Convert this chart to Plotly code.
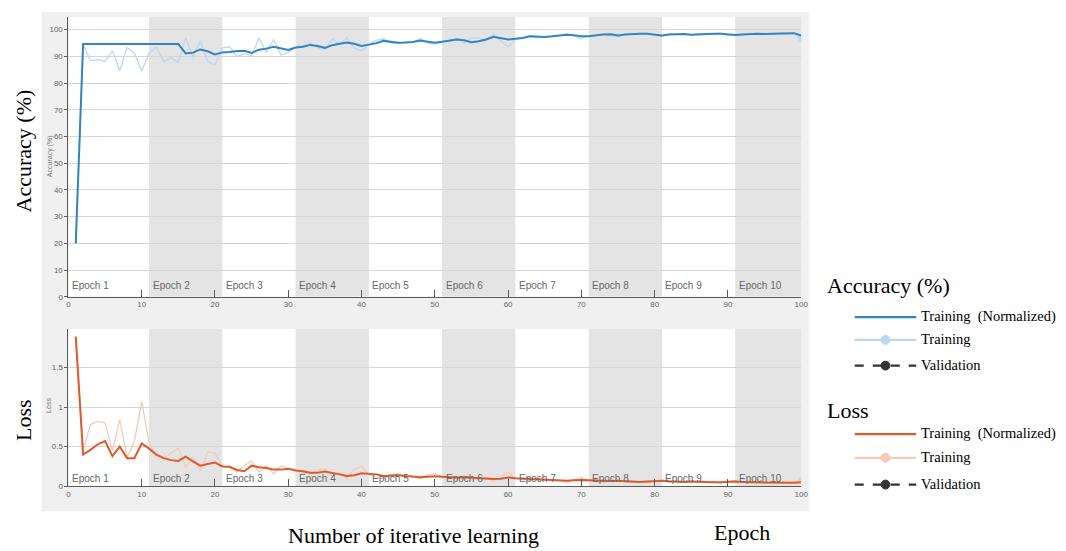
import plotly.graph_objects as go

W, H = 1066, 551

# ---------------- data ----------------
iterations = list(range(1, 101))

acc_smooth = [
    20.0, 94.6, 94.6, 94.6, 94.6, 94.6, 94.6, 94.6, 94.6, 94.6,
    94.6, 94.6, 94.6, 94.6, 94.6, 91.1, 91.4, 92.6, 91.9, 90.7,
    91.5, 91.6, 92.0, 92.1, 91.3, 92.5, 92.9, 93.6, 93.1, 92.4,
    93.3, 93.6, 94.3, 93.9, 93.2, 94.2, 94.7, 95.2, 94.7, 93.9,
    94.4, 94.9, 95.8, 95.4, 95.1, 95.2, 95.4, 95.9, 95.5, 95.1,
    95.5, 95.8, 96.3, 96.0, 95.3, 95.7, 96.3, 97.3, 96.9, 96.3,
    96.6, 96.9, 97.5, 97.3, 97.3, 97.5, 97.8, 98.1, 97.9, 97.5,
    97.5, 97.9, 98.2, 98.3, 97.8, 98.2, 98.4, 98.5, 98.5, 98.2,
    97.8, 98.2, 98.3, 98.4, 98.1, 98.3, 98.5, 98.5, 98.5, 98.3,
    98.0, 98.2, 98.4, 98.5, 98.4, 98.5, 98.7, 98.8, 98.7, 97.8,
]

acc_raw = [
    20.0, 94.5, 88.4, 88.8, 88.1, 92.1, 84.6, 93.3, 91.2, 84.4,
    91.3, 93.4, 88.1, 89.4, 87.8, 97.0, 89.7, 95.9, 88.0, 86.8,
    93.1, 93.6, 90.0, 90.9, 90.3, 96.9, 91.5, 96.3, 90.5, 91.5,
    93.4, 93.9, 95.0, 93.3, 92.5, 96.6, 94.5, 97.0, 93.1, 92.1,
    94.5, 96.0, 96.6, 95.1, 94.8, 95.4, 95.2, 96.7, 95.0, 94.6,
    95.4, 96.1, 96.6, 94.9, 97.0, 96.8, 96.3, 98.2, 96.0, 93.6,
    96.5, 96.9, 97.8, 96.9, 97.5, 97.3, 97.8, 98.4, 97.8, 96.6,
    97.8, 98.2, 98.4, 98.0, 97.5, 98.4, 98.6, 98.3, 98.7, 97.9,
    97.6, 98.4, 98.2, 98.6, 97.9, 98.5, 98.6, 98.3, 98.7, 98.0,
    98.0, 98.4, 98.6, 98.4, 98.6, 98.3, 98.9, 98.7, 98.5, 96.7,
]

loss_smooth = [
    1.89, 0.40, 0.46, 0.53, 0.57, 0.38, 0.50, 0.355, 0.355, 0.54,
    0.475, 0.40, 0.355, 0.33, 0.32, 0.375, 0.315, 0.26, 0.28, 0.30,
    0.25, 0.245, 0.205, 0.19, 0.26, 0.24, 0.23, 0.21, 0.21, 0.22,
    0.20, 0.19, 0.17, 0.17, 0.185, 0.17, 0.15, 0.13, 0.14, 0.165,
    0.16, 0.15, 0.13, 0.135, 0.14, 0.13, 0.125, 0.115, 0.12, 0.125,
    0.12, 0.115, 0.11, 0.115, 0.11, 0.105, 0.10, 0.09, 0.095, 0.11,
    0.10, 0.095, 0.09, 0.09, 0.085, 0.08, 0.075, 0.07, 0.075, 0.08,
    0.075, 0.07, 0.065, 0.065, 0.07, 0.065, 0.06, 0.055, 0.06, 0.065,
    0.07, 0.062, 0.058, 0.055, 0.06, 0.055, 0.052, 0.05, 0.05, 0.055,
    0.06, 0.055, 0.05, 0.05, 0.048, 0.048, 0.045, 0.043, 0.045, 0.05,
]

loss_raw = [
    1.89, 0.45, 0.78, 0.82, 0.80, 0.45, 0.84, 0.36, 0.57, 1.07,
    0.55, 0.38, 0.36, 0.42, 0.48, 0.24, 0.36, 0.20, 0.43, 0.42,
    0.26, 0.24, 0.18, 0.26, 0.32, 0.18, 0.26, 0.155, 0.26, 0.22,
    0.21, 0.17, 0.15, 0.20, 0.22, 0.13, 0.18, 0.10, 0.21, 0.25,
    0.15, 0.11, 0.10, 0.15, 0.16, 0.12, 0.13, 0.09, 0.14, 0.16,
    0.12, 0.10, 0.09, 0.14, 0.08, 0.09, 0.11, 0.06, 0.12, 0.18,
    0.10, 0.09, 0.07, 0.10, 0.08, 0.08, 0.07, 0.05, 0.08, 0.11,
    0.07, 0.06, 0.05, 0.07, 0.08, 0.05, 0.05, 0.06, 0.04, 0.07,
    0.08, 0.05, 0.06, 0.045, 0.07, 0.05, 0.045, 0.06, 0.04, 0.065,
    0.07, 0.05, 0.045, 0.055, 0.04, 0.05, 0.035, 0.04, 0.045, 0.08,
]

epoch_labels = ["Epoch 1", "Epoch 2", "Epoch 3", "Epoch 4", "Epoch 5",
                "Epoch 6", "Epoch 7", "Epoch 8", "Epoch 9", "Epoch 10"]
epoch_starts = [0, 11, 21, 31, 41, 51, 61, 71, 81, 91]
epoch_ends = [11, 21, 31, 41, 51, 61, 71, 81, 91, 100]

x_ticks = [0, 10, 20, 30, 40, 50, 60, 70, 80, 90, 100]
acc_ticks = [0, 10, 20, 30, 40, 50, 60, 70, 80, 90, 100]
loss_ticks = [0, 0.5, 1, 1.5]
loss_tick_text = ["0", "0.5", "1", "1.5"]

ACC_MAX = 104.8
LOSS_MAX = 1.99

# ---------------- styling ----------------
BLUE = "#3384c5"
BLUE_LIGHT = "#bcd8ef"
ORANGE = "#e0592b"
ORANGE_LIGHT = "#f5cbb6"
SHADE = "#e4e4e4"
PANEL = "#f0f0f0"
GRID = "#d6d6d6"
AXIS = "#5a5a5a"
SERIF = "Liberation Serif, Times New Roman, serif"
SANS = "Liberation Sans, Arial, sans-serif"


def px_x(v):
    return v / W


def px_y(v):
    return 1 - v / H


def text_at(x, y, text, size, family=SERIF, color="black", xanchor="center",
            angle=0):
    annotations.append(dict(xref="paper", yref="paper", x=px_x(x), y=px_y(y),
                            text=text, showarrow=False, textangle=angle,
                            xanchor=xanchor, yanchor="middle",
                            font=dict(family=family, size=size, color=color)))


fig = go.Figure()

# accuracy panel
fig.add_trace(go.Scatter(x=iterations, y=acc_raw, mode="lines",
                         line=dict(color=BLUE_LIGHT, width=1.3),
                         xaxis="x", yaxis="y", hoverinfo="skip"))
fig.add_trace(go.Scatter(x=iterations[-1:], y=acc_raw[-1:], mode="markers",
                         marker=dict(color=BLUE_LIGHT, size=6),
                         xaxis="x", yaxis="y", hoverinfo="skip"))
fig.add_trace(go.Scatter(x=iterations, y=acc_smooth, mode="lines",
                         line=dict(color=BLUE, width=2),
                         xaxis="x", yaxis="y"))

# loss panel
fig.add_trace(go.Scatter(x=iterations, y=loss_raw, mode="lines",
                         line=dict(color=ORANGE_LIGHT, width=1.3),
                         xaxis="x2", yaxis="y2", hoverinfo="skip"))
fig.add_trace(go.Scatter(x=iterations[-1:], y=loss_raw[-1:], mode="markers",
                         marker=dict(color=ORANGE_LIGHT, size=6),
                         xaxis="x2", yaxis="y2", hoverinfo="skip"))
fig.add_trace(go.Scatter(x=iterations, y=loss_smooth, mode="lines",
                         line=dict(color=ORANGE, width=2),
                         xaxis="x2", yaxis="y2"))

shapes = []
annotations = []

# grey frame behind both panels
shapes.append(dict(type="rect", xref="paper", yref="paper",
                   x0=px_x(40), x1=px_x(814), y0=px_y(516), y1=px_y(12),
                   fillcolor=PANEL, line=dict(width=0), layer="below"))

for xa, ya, ymax, label_y in (("x", "y", ACC_MAX, 4.4), ("x2", "y2", LOSS_MAX, 0.1)):
    shapes.append(dict(type="rect", xref=xa, yref=ya, x0=0, x1=100, y0=0, y1=ymax,
                       fillcolor="white", line=dict(width=0), layer="below"))
    for i, (s, e) in enumerate(zip(epoch_starts, epoch_ends)):
        if i % 2 == 1:
            shapes.append(dict(type="rect", xref=xa, yref=ya, x0=s, x1=e, y0=0, y1=ymax,
                               fillcolor=SHADE, line=dict(width=0), layer="below"))
        annotations.append(dict(xref=xa, yref=ya, x=s + 0.2, y=label_y, text=epoch_labels[i],
                                showarrow=False, xanchor="left", yanchor="middle",
                                font=dict(family=SANS, size=10, color="#666666")))

# small inner axis titles
text_at(48, 158, "Accuracy (%)", 7, family=SANS, color="#777777", angle=-90)
text_at(47, 409, "Loss", 7, family=SANS, color="#777777", angle=-90)

# large outer titles
text_at(22, 152, "Accuracy (%)", 22, angle=-90)
text_at(21, 424, "Loss", 22, angle=-90)
text_at(415, 540, "Number of iterative learning", 22)
text_at(746, 537, "Epoch", 22)


# legend block
def legend_group(title, title_y, rows):
    text_at(830, title_y, title, 22, xanchor="left")
    for text, y, color, dash, marker in rows:
        shapes.append(dict(type="line", xref="paper", yref="paper",
                           x0=px_x(860), x1=px_x(922), y0=px_y(y), y1=px_y(y),
                           line=dict(color=color, width=2.2, dash=dash)))
        if marker:
            r = 4.5
            shapes.append(dict(type="circle", xref="paper", yref="paper",
                               x0=px_x(891 - r), x1=px_x(891 + r),
                               y0=px_y(y + r), y1=px_y(y - r),
                               fillcolor=color, line=dict(color=color, width=1)))
        text_at(925, y - 1, text, 14.5, xanchor="left")


legend_group("Accuracy (%)", 288, [
    ("Training\u00a0 (Normalized)", 320, BLUE, "solid", False),
    ("Training", 343, BLUE_LIGHT, "solid", True),
    ("Validation", 369, "#333333", "dash", True),
])
legend_group("Loss", 414, [
    ("Training\u00a0 (Normalized)", 438, ORANGE, "solid", False),
    ("Training", 462, ORANGE_LIGHT, "solid", True),
    ("Validation", 489, "#333333", "dash", True),
])

x_common = dict(domain=[px_x(67), px_x(806)], range=[0, 100], tickvals=x_ticks,
                ticks="inside", ticklen=7, tickcolor=AXIS, showline=True,
                linecolor=AXIS, linewidth=1, showgrid=False, zeroline=False,
                tickfont=dict(family=SANS, size=8, color="#666666"), fixedrange=True)
y_common = dict(ticks="outside", ticklen=3, tickcolor=AXIS, showline=True,
                linecolor=AXIS, linewidth=1, showgrid=True, gridcolor=GRID,
                gridwidth=1, zeroline=False,
                tickfont=dict(family=SANS, size=8, color="#666666"), fixedrange=True)

fig.update_layout(
    width=W, height=H,
    margin=dict(l=0, r=0, t=0, b=0),
    paper_bgcolor="white", plot_bgcolor="white",
    showlegend=False,
    xaxis=dict(anchor="y", **x_common),
    yaxis=dict(anchor="x", domain=[px_y(299.5), px_y(17)], range=[0, ACC_MAX],
               tickvals=acc_ticks, **y_common),
    xaxis2=dict(anchor="y2", **x_common),
    yaxis2=dict(anchor="x2", domain=[px_y(490.7), px_y(331.7)], range=[0, LOSS_MAX],
                tickvals=loss_ticks, ticktext=loss_tick_text, **y_common),
    shapes=shapes,
    annotations=annotations,
)

fig.write_html("out.html")
